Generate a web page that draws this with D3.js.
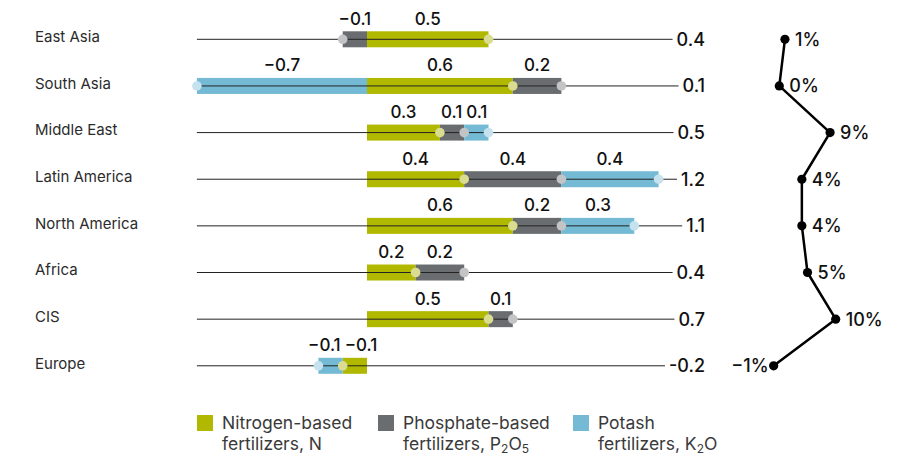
<!DOCTYPE html>
<html>
<head>
<meta charset="utf-8">
<script src="https://cdn.jsdelivr.net/npm/d3@7"></script>
<style>
  html, body { margin: 0; padding: 0; background: #fff; }
  svg { display: block; font-family: Inter, "Noto Sans", sans-serif; }
</style>
</head>
<body>
<svg id="chart" width="913" height="456"></svg>
<script>
// ---------- data ----------
const regions = ["East Asia", "South Asia", "Middle East", "Latin America", "North America", "Africa", "CIS", "Europe"];
const nitrogen  = [0.5, 0.6, 0.3, 0.4, 0.6, 0.2, 0.5, -0.1];
const phosphate = [-0.1, 0.2, 0.1, 0.4, 0.2, 0.2, 0.1, 0];
const potash    = [0, -0.7, 0.1, 0.4, 0.3, 0, 0, -0.1];
const totals    = [0.4, 0.1, 0.5, 1.2, 1.1, 0.4, 0.7, -0.2];
const growthPct = [1, 0, 9, 4, 4, 5, 10, -1];
const seriesNames = ["N", "P", "K"];

// ---------- styles ----------
const colors   = { N: "#b1b800", P: "#6a6d70", K: "#74bad5" };
const dotCols  = { N: "#dadd90", P: "#c3c4c5", K: "#c6e2ee" };

const svg = d3.select("#chart");

const y = d3.scalePoint().domain(regions).range([39.3, 365.8]);
const x = d3.scaleLinear().domain([0, 1]).range([367, 610]);
const xp = d3.scaleLinear().domain([0, 10]).range([779.3, 835.7]);

const hyphenLocale = d3.formatLocale({ decimal: ".", thousands: ",", grouping: [3], currency: ["", ""], minus: "-" });
const fmtBar = v => (v < 0 ? "\u2212" : "") + d3.format(".1f")(Math.abs(v));
const fmtTot = hyphenLocale.format(".1f");
const fmtPct = v => (v < 0 ? "\u2212" : "") + Math.abs(v) + "%";

// build segments
const segs = [];
regions.forEach((r, i) => {
  let pos = 0, neg = 0;
  const vals = { N: nitrogen[i], P: phosphate[i], K: potash[i] };
  seriesNames.forEach(s => {
    const v = vals[s];
    if (!v) return;
    let x0, x1;
    if (v > 0) { x0 = pos; x1 = pos + v; pos = x1; }
    else { x0 = neg; x1 = neg + v; neg = x1; }
    segs.push({ region: r, s, v, x0, x1 });
  });
});

// category labels
svg.append("g").selectAll("text").data(regions).join("text")
  .attr("x", 35).attr("y", d => y(d) + 2.8)
  .attr("font-size", 15).attr("fill", "#2b2b2b")
  .text(d => d);

// total labels (right-aligned)
const totG = svg.append("g");
const totTexts = totG.selectAll("text").data(regions).join("text")
  .attr("x", 705).attr("y", d => y(d)).attr("dy", "0.36em")
  .attr("text-anchor", "end").attr("font-size", 18).attr("font-weight", 500).attr("fill", "#111")
  .text((d, i) => fmtTot(totals[i]));

// bars
svg.append("g").selectAll("rect").data(segs).join("rect")
  .attr("x", d => x(Math.min(d.x0, d.x1)))
  .attr("width", d => Math.abs(x(d.x1) - x(d.x0)))
  .attr("y", d => y(d.region) - 8)
  .attr("height", 16)
  .attr("fill", d => colors[d.s]);

// track lines
const lineG = svg.append("g");
totTexts.each(function (d) {
  const bb = this.getBBox();
  lineG.append("line")
    .attr("x1", x(-0.7)).attr("x2", bb.x - 4)
    .attr("y1", y(d)).attr("y2", y(d))
    .attr("stroke", "#222").attr("stroke-width", 1);
});

// end dots
svg.append("g").selectAll("circle").data(segs).join("circle")
  .attr("cx", d => x(d.x1)).attr("cy", d => y(d.region))
  .attr("r", 4.8).attr("fill", d => dotCols[d.s]);

// segment labels, with simple overlap resolution within a row
const segLabels = svg.append("g").selectAll("text").data(segs).join("text")
  .attr("x", d => (x(d.x0) + x(d.x1)) / 2)
  .attr("y", d => y(d.region) - 14.5)
  .attr("text-anchor", "middle").attr("font-size", 17).attr("font-weight", 500).attr("fill", "#111")
  .text(d => fmtBar(d.v));
segLabels.each(function (d) { d.cx = (x(d.x0) + x(d.x1)) / 2; d.w = this.getComputedTextLength(); });
regions.forEach(r => {
  const row = segs.filter(d => d.region === r).sort((a, b) => a.cx - b.cx);
  for (let k = 1; k < row.length; k++) {
    const a = row[k - 1], b = row[k];
    const overlap = (a.cx + a.w / 2 + 4) - (b.cx - b.w / 2);
    if (overlap > 0) { a.cx -= overlap / 2; b.cx += overlap / 2; }
  }
});
segLabels.attr("x", d => d.cx);

// right line chart
const pts = regions.map((r, i) => ({ r, v: growthPct[i] }));
svg.append("path").datum(pts)
  .attr("d", d3.line().x(d => xp(d.v)).y(d => y(d.r)))
  .attr("fill", "none").attr("stroke", "#000").attr("stroke-width", 2.5)
  .attr("stroke-linejoin", "round");
svg.append("g").selectAll("circle").data(pts).join("circle")
  .attr("cx", d => xp(d.v)).attr("cy", d => y(d.r)).attr("r", 4.6).attr("fill", "#000");
svg.append("g").selectAll("text").data(pts).join("text")
  .attr("x", d => d.v < 0 ? xp(d.v) - 5 : xp(d.v) + 10)
  .attr("y", d => y(d.r)).attr("dy", "0.36em")
  .attr("text-anchor", d => d.v < 0 ? "end" : "start")
  .attr("font-size", 18).attr("font-weight", 500).attr("fill", "#111")
  .text(d => fmtPct(d.v));

// legend
const legendItems = [
  { s: "N", x: 197, l1: "Nitrogen-based", l2: [["fertilizers, N", false]] },
  { s: "P", x: 378, l1: "Phosphate-based", l2: [["fertilizers, P", false], ["2", true], ["O", false], ["5", true]] },
  { s: "K", x: 573, l1: "Potash", l2: [["fertilizers, K", false], ["2", true], ["O", false]] }
];
const lg = svg.append("g").selectAll("g").data(legendItems).join("g")
  .attr("transform", d => `translate(${d.x},415)`);
lg.append("rect").attr("width", 16).attr("height", 16).attr("fill", d => colors[d.s]);
lg.append("text").attr("x", 25).attr("y", 14.3)
  .attr("font-size", 17.5).attr("fill", "#3a3a3a").text(d => d.l1);
const l2 = lg.append("text").attr("x", 25).attr("y", 35)
  .attr("font-size", 17.5).attr("fill", "#3a3a3a");
l2.each(function (d) {
  const t = d3.select(this);
  d.l2.forEach(([str, sub]) => {
    const ts = t.append("tspan").text(str);
    if (sub) ts.attr("font-size", 12).attr("dy", 3);
    else if (t.selectAll("tspan").size() > 1) ts.attr("dy", -3);
  });
});
</script>
</body>
</html>
